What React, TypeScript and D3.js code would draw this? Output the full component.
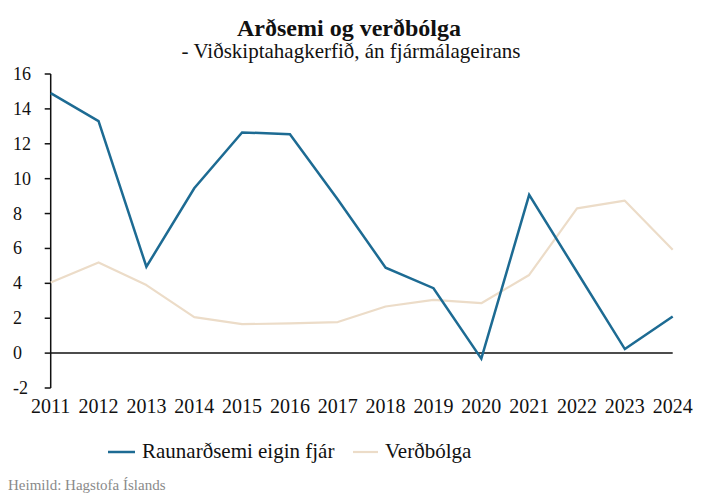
import React from "react";
import * as d3 from "d3";

const years = [2011, 2012, 2013, 2014, 2015, 2016, 2017, 2018, 2019, 2020, 2021, 2022, 2023, 2024];
const raunardsemi = [14.9, 13.3, 4.95, 9.45, 12.65, 12.55, 8.8, 4.9, 3.72, -0.32, 9.07, 4.65, 0.23, 2.1];
const verdbolga = [4.05, 5.2, 3.9, 2.06, 1.66, 1.7, 1.78, 2.67, 3.05, 2.86, 4.48, 8.3, 8.74, 5.92];
const yTicks = [-2, 0, 2, 4, 6, 8, 10, 12, 14, 16];
const seriesNames = ["Raunarðsemi eigin fjár", "Verðbólga"];

const W = 713;
const H = 503;
const BLUE = "#1d6b93";
const BEIGE = "#ecdcc8";
const SERIF = "'Liberation Serif', 'DejaVu Serif', serif";

export default function App() {
  const x = d3.scaleLinear().domain([2011, 2024]).range([50.7, 672.7]);
  const y = d3.scaleLinear().domain([-2, 16]).range([388, 74]);

  const line = d3
    .line<[number, number]>()
    .x((d) => x(d[0]))
    .y((d) => y(d[1]));

  const blueData = years.map((yr, i) => [yr, raunardsemi[i]] as [number, number]);
  const beigeData = years.map((yr, i) => [yr, verdbolga[i]] as [number, number]);

  const txt = (size: number, extra: React.CSSProperties = {}): React.CSSProperties => ({
    fontFamily: SERIF,
    fontSize: size,
    ...extra,
  });

  return (
    <svg width={W} height={H} style={{ position: "absolute", left: 0, top: 0, background: "#fff" }}>
      <rect x={0} y={0} width={W} height={H} fill="#fff" />
      <text x={349} y={36} textAnchor="middle" style={txt(24, { fontWeight: 700 })} fill="#111">
        Arðsemi og verðbólga
      </text>
      <text x={351} y={58} textAnchor="middle" style={txt(21)} fill="#111">
        - Viðskiptahagkerfið, án fjármálageirans
      </text>

      <line x1={x(2011)} x2={x(2011)} y1={y(16)} y2={y(-2)} stroke="#111" strokeWidth={1.5} />
      {yTicks.map((t) => (
        <g key={t}>
          <line x1={x(2011) - 6} x2={x(2011)} y1={y(t)} y2={y(t)} stroke="#111" strokeWidth={1.5} />
          <text x={13} y={y(t) + 6} style={txt(18)} fill="#111">
            {t}
          </text>
        </g>
      ))}

      <line x1={x(2011)} x2={x(2024)} y1={y(0)} y2={y(0)} stroke="#111" strokeWidth={1.5} />

      {years.map((yr) => (
        <text key={yr} x={x(yr)} y={413} textAnchor="middle" style={txt(20)} fill="#111">
          {yr}
        </text>
      ))}

      <path d={line(beigeData) || ""} fill="none" stroke={BEIGE} strokeWidth={2.2} strokeLinejoin="round" />
      <path d={line(blueData) || ""} fill="none" stroke={BLUE} strokeWidth={2.5} />

      <line x1={108} x2={135} y1={452} y2={452} stroke={BLUE} strokeWidth={2.5} />
      <text x={142} y={458} style={txt(21)} fill="#111">
        {seriesNames[0]}
      </text>
      <line x1={353} x2={378} y1={452} y2={452} stroke={BEIGE} strokeWidth={2.2} />
      <text x={385} y={458} style={txt(21)} fill="#111">
        {seriesNames[1]}
      </text>

      <text x={8} y={490} style={txt(15)} fill="#8a8a8a">
        Heimild: Hagstofa Íslands
      </text>
    </svg>
  );
}
